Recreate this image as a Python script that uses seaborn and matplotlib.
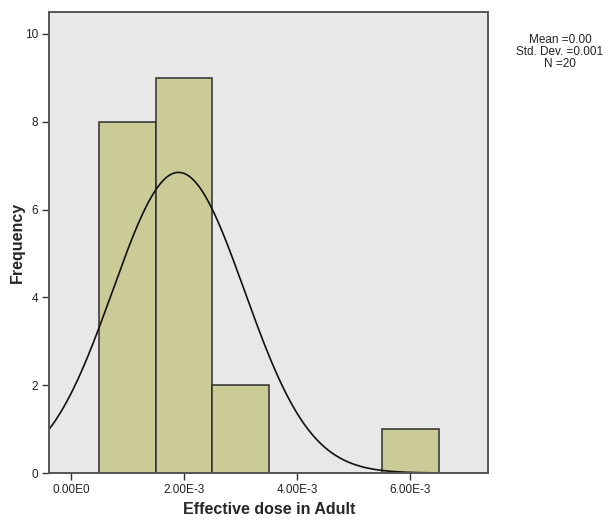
import numpy as np
import pandas as pd
import matplotlib
matplotlib.use("Agg")
import matplotlib.pyplot as plt
import seaborn as sns

# Data
bin_centers = [1.0e-3, 2.0e-3, 3.0e-3, 4.0e-3, 5.0e-3, 6.0e-3]
counts = [8, 9, 2, 0, 0, 1]
bin_edges = [0.5e-3, 1.5e-3, 2.5e-3, 3.5e-3, 4.5e-3, 5.5e-3, 6.5e-3]
x_ticks = [0.0, 2.0e-3, 4.0e-3, 6.0e-3]
x_tick_labels = ["0.00E0", "2.00E-3", "4.00E-3", "6.00E-3"]
y_ticks = [0, 2, 4, 6, 8, 10]
stats_lines = ["Mean =0.00", "Std. Dev. =0.001", "N =20"]

sns.set_style("white")
plt.rcParams['font.family'] = ['Liberation Sans', 'DejaVu Sans']

df = pd.DataFrame({"dose": bin_centers, "count": counts})

fig = plt.figure(figsize=(6.09, 5.22), dpi=100)
ax = fig.add_axes([49/609, 49/522, (488-49)/609, (473-12)/522])
ax.set_facecolor("#E8E8E8")

sns.histplot(data=df, x="dose", weights="count", bins=bin_edges, ax=ax,
             color="#CBCB98", edgecolor="#2E2E2E", linewidth=1.1, alpha=1.0)

# Normal curve from sample mean / sd
w = np.repeat(bin_centers, counts)
n = len(w)
mu = w.mean()
sd = w.std(ddof=1)
binw = bin_edges[1] - bin_edges[0]
xlim = (-0.39e-3, 7.37e-3)
xs = np.linspace(xlim[0], xlim[1], 400)
ys = n * binw / (sd * np.sqrt(2 * np.pi)) * np.exp(-0.5 * ((xs - mu) / sd) ** 2)
sns.lineplot(x=xs, y=ys, ax=ax, color="#111111", linewidth=1.2)

ax.set_xlim(*xlim)
ax.set_ylim(0, 10.5)
ax.set_xticks(x_ticks)
ax.set_xticklabels(x_tick_labels)
ax.set_yticks(y_ticks)
ax.tick_params(axis="both", direction="out", length=5, width=1, color="#333333",
               labelsize=8.5, labelcolor="#222222", pad=3, bottom=True, left=True)
for s in ax.spines.values():
    s.set_color("#555555")
    s.set_linewidth(1.4)

ax.set_xlabel("Effective dose in Adult", fontsize=11.5, fontweight="bold")
ax.set_ylabel("Frequency", fontsize=11.5, fontweight="bold")
ax.xaxis.set_label_coords((269 - 49) / 439, -(510 - 473) / 461)
ax.yaxis.set_label_coords(-(49 - 17) / 439, (473 - 242) / 461)
ax.xaxis.label.set_va("center")
ax.yaxis.label.set_va("center")

fig.text(560/609, 1 - 52/522, "\n".join(stats_lines), ha="center", va="center",
         fontsize=8.5, color="#222222", linespacing=1.05)

fig.savefig("out.png", dpi=100)
